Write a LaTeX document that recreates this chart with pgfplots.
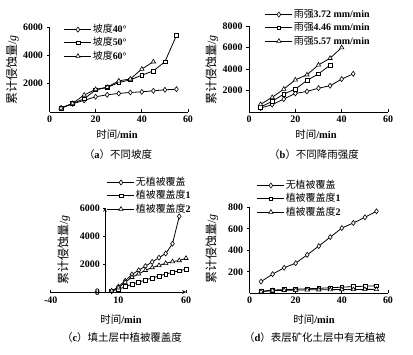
\documentclass[border=0pt]{standalone}
\usepackage{fontspec}
\setmainfont{Liberation Serif}
\newfontfamily\cjk{Noto Sans CJK SC}
\usepackage{pgfplots}
\pgfplotsset{compat=1.18}
\newcommand\zh[1]{{\cjk\mdseries #1}}
\pgfplotsset{
 myax/.style={scale only axis, axis lines=left, axis line style={-, line width=0.7bp},
   tick label style={font=\fontsize{10}{12}\selectfont\bfseries},
   /pgf/number format/assume math mode=true, /pgf/number format/1000 sep={},
   major tick length=3bp, tick style={line width=0.7bp, black},
   xtick align=inside, ytick align=outside,
   legend cell align=left,
   legend style={draw=none, fill=none, inner sep=0pt, outer sep=0pt, anchor=north west,
     font=\fontsize{10}{12}\selectfont\bfseries, row sep=1.3bp,
     nodes={inner sep=1bp, text height=8bp, text depth=2bp}},
   legend image code/.code={\draw[mark repeat=2,mark phase=2,##1] plot coordinates {(0bp,0bp) (13.5bp,0bp) (27bp,0bp)};},
 },
 sA/.style={black, line width=0.8bp, mark=diamond*, mark size=2.5bp, mark options={solid, fill=white, line width=0.6bp}},
 sB/.style={black, line width=0.8bp, mark=square*, mark size=1.9bp, mark options={solid, fill=white, line width=0.6bp}},
 sC/.style={black, line width=0.8bp, mark=triangle*, mark size=2.5bp, mark options={solid, fill=white, line width=0.6bp}},
}
\begin{document}
\begin{tikzpicture}[x=1bp,y=1bp]
\useasboundingbox (0,0) rectangle (413,355);
% (a)
\begin{axis}[myax, at={(49.5bp,243bp)}, anchor=south west, width=138.5bp, height=85bp,
  xmin=0, xmax=60, ymin=0, ymax=6000, xtick={0,20,40,60}, ytick={2000,4000,6000},
  legend style={at={(0.105,1.04)}}]
\addplot[sA] coordinates {(5,280)(10,580)(15,820)(20,1075)(25,1215)(30,1310)(35,1380)(40,1425)(45,1495)(50,1565)(55,1610)};
\addlegendentry{\zh{坡度}40°}
\addplot[sB] coordinates {(5,280)(10,600)(15,930)(20,1560)(25,1730)(30,2080)(35,2270)(40,2600)(45,2900)(50,3550)(55,5400)};
\addlegendentry{\zh{坡度}50°}
\addplot[sC] coordinates {(5,280)(10,600)(15,1200)(20,1600)(25,1750)(30,2200)(35,2330)(40,3030)(45,3550)};
\addlegendentry{\zh{坡度}60°}
\end{axis}
% (b)
\begin{axis}[myax, at={(249bp,243bp)}, anchor=south west, width=139bp, height=86bp,
  xmin=0, xmax=60, ymin=0, ymax=8000, xtick={0,20,40,60}, ytick={2000,4000,6000,8000},
  legend style={at={(0.115,1.203)}}]
\addplot[sA] coordinates {(5,370)(10,680)(15,1200)(20,1730)(25,1910)(30,2220)(35,2440)(40,3060)(45,3550)};
\addlegendentry{\zh{雨强}3.72 mm/min}
\addplot[sB] coordinates {(5,460)(10,990)(15,1670)(20,2130)(25,2930)(30,3550)(35,4350)};
\addlegendentry{\zh{雨强}4.46 mm/min}
\addplot[sC] coordinates {(5,710)(10,1360)(15,2130)(20,2990)(25,3460)(30,4380)(35,5000)(40,5990)};
\addlegendentry{\zh{雨强}5.57 mm/min}
\end{axis}
% (c)
\begin{axis}[myax, axis x line=bottom, axis y line=middle, hide obscured y ticks=false,
  at={(50.8bp,63bp)}, anchor=south west, width=135.2bp, height=84bp,
  xmin=-40, xmax=60, ymin=0, ymax=6000, xtick={-40,10,60}, ytick={0,2000,4000,6000},
  legend style={at={(0.416,1.375)}}]
\addplot[sA] coordinates {(5,50)(10,380)(15,800)(20,1250)(25,1550)(30,1850)(35,2150)(40,2450)(45,2750)(50,3450)(55,5400)};
\addlegendentry{\zh{无植被覆盖}}
\addplot[sB] coordinates {(5,90)(10,190)(15,380)(20,550)(25,710)(30,860)(35,1000)(40,1140)(45,1290)(50,1400)(55,1520)(60,1620)};
\addlegendentry{\zh{植被覆盖度}1}
\addplot[sC] coordinates {(5,90)(10,300)(15,700)(20,1050)(25,1300)(30,1550)(35,1750)(40,1900)(45,2050)(50,2170)(55,2250)(60,2410)};
\addlegendentry{\zh{植被覆盖度}2}
\end{axis}
% (d)
\begin{axis}[myax, at={(249.5bp,61.7bp)}, anchor=south west, width=138.5bp, height=86bp,
  xmin=0, xmax=60, ymin=0, ymax=800, xtick={0,20,40,60}, ytick={200,400,600,800},
  legend style={at={(0.054,1.323)}}]
\addplot[sA] coordinates {(5,109)(10,178)(15,237)(20,280)(25,358)(30,439)(35,523)(40,607)(45,654)(50,707)(55,763)};
\addlegendentry{\zh{无植被覆盖}}
\addplot[sB] coordinates {(5,18)(10,30)(15,34)(20,38)(25,42)(30,46)(35,52)(40,57)(45,62)(50,66)(55,70)};
\addlegendentry{\zh{植被覆盖度}1}
\addplot[sC] coordinates {(5,15)(10,25)(15,28)(20,30)(25,32)(30,33)(35,34)(40,35)(45,36)(50,36)(55,37)};
\addlegendentry{\zh{植被覆盖度}2}
\end{axis}
% axis labels
\tikzset{lab/.style={font=\fontsize{10.5}{12}\selectfont\bfseries, inner sep=0pt},
         ylab/.style={font=\fontsize{12}{14}\selectfont, inner sep=0pt, rotate=90}}
\node[lab] at (117,220) {\zh{时间}/min};
\node[lab] at (316,220) {\zh{时间}/min};
\node[lab] at (121,35) {\zh{时间}/min};
\node[lab] at (314,35) {\zh{时间}/min};
\node[ylab] at (12.5,285) {\zh{累计侵蚀量}/\textit{g}};
\node[ylab] at (212,285) {\zh{累计侵蚀量}/\textit{g}};
\node[ylab] at (64,105) {\zh{累计侵蚀量}/\textit{g}};
\node[ylab] at (212,106) {\zh{累计侵蚀量}/\textit{g}};
% captions
\node[lab] at (118,200) {\zh{（}a\zh{）不同坡度}};
\node[lab] at (314,200) {\zh{（}b\zh{）不同降雨强度}};
\node[lab] at (122,17) {\zh{（}c\zh{）填土层中植被覆盖度}};
\node[lab] at (315,17) {\zh{（}d\zh{）表层矿化土层中有无植被}};
\end{tikzpicture}
\end{document}
